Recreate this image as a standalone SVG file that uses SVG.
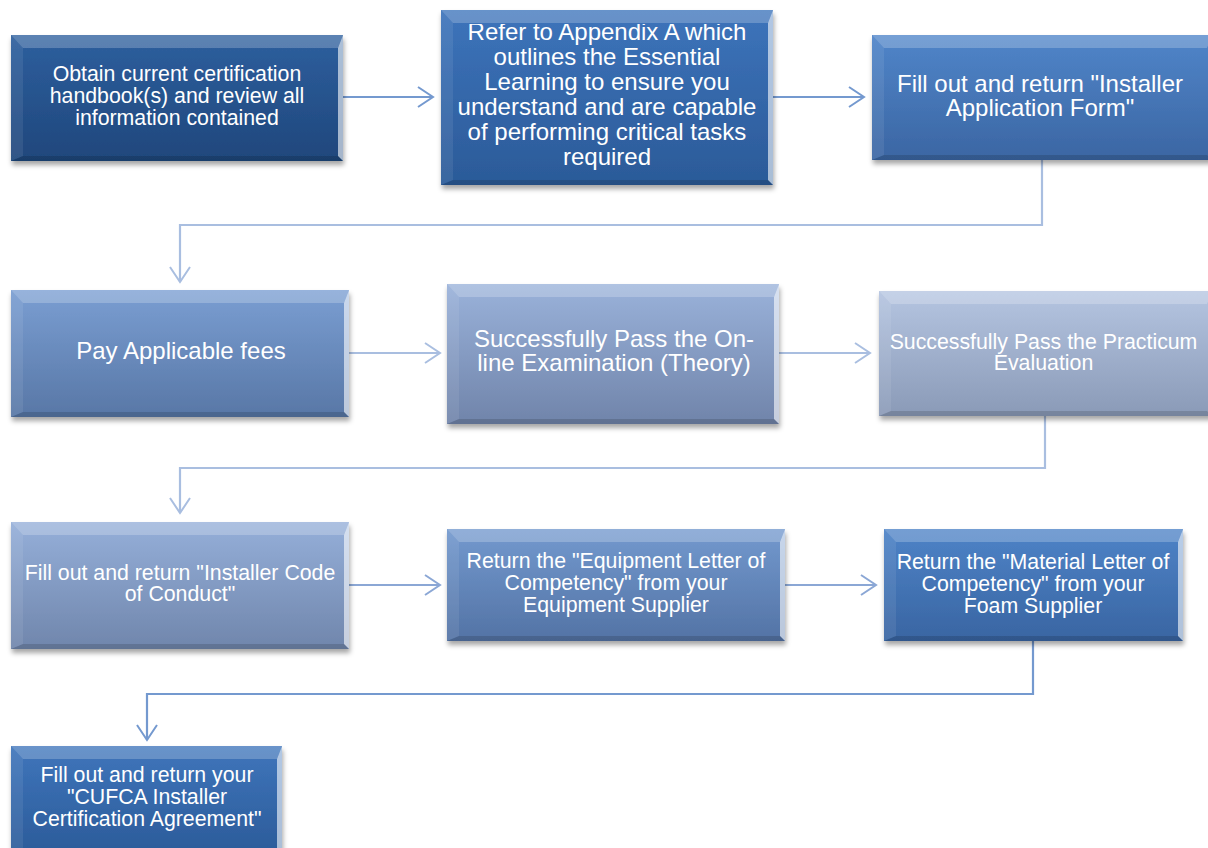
<svg xmlns="http://www.w3.org/2000/svg" width="1208" height="848" viewBox="0 0 1208 848">
<defs>
<style>
.t{font-family:"Liberation Sans",Arial,sans-serif;fill:#ffffff;text-anchor:middle}
.big{font-size:24px}
.sm{font-size:21.3px}
.bt{fill:#ffffff;fill-opacity:0.22}
.bl{fill:#ffffff;fill-opacity:0.08}
.br{fill:#ffffff;fill-opacity:0.6}
.bb{fill:#000000;fill-opacity:0.14}
.c{fill:none;stroke-width:2.2}
.c1{stroke:#7499cf}
.c2{stroke:#a9bee0}
.c3{stroke:#8ba7d5}
.box{filter:url(#sh)}
</style>
<filter id="sh" x="-5%" y="-10%" width="112%" height="125%">
<feDropShadow dx="1" dy="4" stdDeviation="2.5" flood-color="#000" flood-opacity="0.35"/>
</filter>
<marker id="a1" markerUnits="userSpaceOnUse" markerWidth="20" markerHeight="26" refX="16" refY="11" orient="auto"><path d="M1,1 L16,11 L1,21" fill="none" stroke="#7499cf" stroke-width="2"/></marker>
<marker id="a2" markerUnits="userSpaceOnUse" markerWidth="20" markerHeight="26" refX="16" refY="11" orient="auto"><path d="M1,1 L16,11 L1,21" fill="none" stroke="#a9bee0" stroke-width="2"/></marker>
<marker id="a3" markerUnits="userSpaceOnUse" markerWidth="20" markerHeight="26" refX="16" refY="11" orient="auto"><path d="M1,1 L16,11 L1,21" fill="none" stroke="#8ba7d5" stroke-width="2"/></marker>
<linearGradient id="g1" x1="0" y1="0" x2="0" y2="1"><stop offset="0" stop-color="#2e5f9e"/><stop offset="1" stop-color="#1f477c"/></linearGradient>
<linearGradient id="g2" x1="0" y1="0" x2="0" y2="1"><stop offset="0" stop-color="#3d74bb"/><stop offset="1" stop-color="#2b5a98"/></linearGradient>
<linearGradient id="g3" x1="0" y1="0" x2="0" y2="1"><stop offset="0" stop-color="#5085c9"/><stop offset="1" stop-color="#3b66a3"/></linearGradient>
<linearGradient id="g4" x1="0" y1="0" x2="0" y2="1"><stop offset="0" stop-color="#7a9ed2"/><stop offset="1" stop-color="#5877a6"/></linearGradient>
<linearGradient id="g5" x1="0" y1="0" x2="0" y2="1"><stop offset="0" stop-color="#9ab2da"/><stop offset="1" stop-color="#7084aa"/></linearGradient>
<linearGradient id="g6" x1="0" y1="0" x2="0" y2="1"><stop offset="0" stop-color="#b5c5e1"/><stop offset="1" stop-color="#8a9ab7"/></linearGradient>
<linearGradient id="g7" x1="0" y1="0" x2="0" y2="1"><stop offset="0" stop-color="#95afd9"/><stop offset="1" stop-color="#7086ac"/></linearGradient>
<linearGradient id="g8" x1="0" y1="0" x2="0" y2="1"><stop offset="0" stop-color="#7399ce"/><stop offset="1" stop-color="#5373a5"/></linearGradient>
<linearGradient id="g9" x1="0" y1="0" x2="0" y2="1"><stop offset="0" stop-color="#4e83c7"/><stop offset="1" stop-color="#3965a2"/></linearGradient>
<linearGradient id="g10" x1="0" y1="0" x2="0" y2="1"><stop offset="0" stop-color="#3f75bb"/><stop offset="1" stop-color="#2b5b99"/></linearGradient>
<clipPath id="clip2"><rect x="441" y="24" width="332" height="161"/></clipPath>
</defs>
<rect width="1208" height="848" fill="#ffffff"/>

<g id="connectors">
<line class="c c1" x1="343" y1="97" x2="433" y2="97" marker-end="url(#a1)"/>
<line class="c c1" x1="773" y1="97" x2="864" y2="97" marker-end="url(#a1)"/>
<polyline class="c c2" points="1042,160 1042,225 180,225 180,282" marker-end="url(#a2)"/>
<line class="c c2" x1="349" y1="353" x2="440" y2="353" marker-end="url(#a2)"/>
<line class="c c2" x1="779" y1="353" x2="870" y2="353" marker-end="url(#a2)"/>
<polyline class="c c2" points="1045,416 1045,468 180,468 180,513" marker-end="url(#a2)"/>
<line class="c c3" x1="349" y1="585" x2="440" y2="585" marker-end="url(#a3)"/>
<line class="c c3" x1="785" y1="585" x2="876" y2="585" marker-end="url(#a3)"/>
<polyline class="c c1" points="1033,641 1033,694 147,694 147,740" marker-end="url(#a1)"/>
</g>

<g id="n1">
<rect class="box" x="11" y="35" width="332" height="126" fill="url(#g1)"/>
<polygon class="bt" points="11,35 343,35 338,48 23,48"/>
<polygon class="bl" points="11,35 23,48 23,156 11,161"/>
<polygon class="br" points="343,35 343,161 338,156 338,48"/>
<polygon class="bb" points="11,161 343,161 338,156 23,156"/>
<text class="t sm" x="177" y="81">Obtain current certification</text>
<text class="t sm" x="177" y="103">handbook(s) and review all</text>
<text class="t sm" x="177" y="125">information contained</text>
</g>

<g id="n2">
<rect class="box" x="441" y="10" width="332" height="175" fill="url(#g2)"/>
<polygon class="bt" points="441,10 773,10 768,23 453,23"/>
<polygon class="bl" points="441,10 453,23 453,180 441,185"/>
<polygon class="br" points="773,10 773,185 768,180 768,23"/>
<polygon class="bb" points="441,185 773,185 768,180 453,180"/>
<g clip-path="url(#clip2)">
<text class="t big" x="607" y="40">Refer to Appendix A which</text>
</g>
<text class="t big" x="607" y="65">outlines the Essential</text>
<text class="t big" x="607" y="90">Learning to ensure you</text>
<text class="t big" x="607" y="115">understand and are capable</text>
<text class="t big" x="607" y="140">of performing critical tasks</text>
<text class="t big" x="607" y="165">required</text>
</g>

<g id="n3">
<rect class="box" x="872" y="35" width="340" height="125" fill="url(#g3)"/>
<polygon class="bt" points="872,35 1212,35 1207,48 884,48"/>
<polygon class="bl" points="872,35 884,48 884,155 872,160"/>
<polygon class="bb" points="872,160 1212,160 1207,155 884,155"/>
<text class="t big" x="1040" y="92">Fill out and return "Installer</text>
<text class="t big" x="1040" y="116">Application Form"</text>
</g>

<g id="n4">
<rect class="box" x="11" y="290" width="338" height="127" fill="url(#g4)"/>
<polygon class="bt" points="11,290 349,290 344,303 23,303"/>
<polygon class="bl" points="11,290 23,303 23,412 11,417"/>
<polygon class="br" points="349,290 349,417 344,412 344,303"/>
<polygon class="bb" points="11,417 349,417 344,412 23,412"/>
<text class="t big" x="181" y="359">Pay Applicable fees</text>
</g>

<g id="n5">
<rect class="box" x="447" y="284" width="332" height="140" fill="url(#g5)"/>
<polygon class="bt" points="447,284 779,284 774,297 459,297"/>
<polygon class="bl" points="447,284 459,297 459,419 447,424"/>
<polygon class="br" points="779,284 779,424 774,419 774,297"/>
<polygon class="bb" points="447,424 779,424 774,419 459,419"/>
<text class="t big" x="614" y="347">Successfully Pass the On-</text>
<text class="t big" x="614" y="371">line Examination (Theory)</text>
</g>

<g id="n6">
<rect class="box" x="879" y="291" width="333" height="125" fill="url(#g6)"/>
<polygon class="bt" points="879,291 1212,291 1207,304 891,304"/>
<polygon class="bl" points="879,291 891,304 891,411 879,416"/>
<polygon class="bb" points="879,416 1212,416 1207,411 891,411"/>
<text class="t sm" x="1043.5" y="349">Successfully Pass the Practicum</text>
<text class="t sm" x="1043.5" y="370">Evaluation</text>
</g>

<g id="n7">
<rect class="box" x="11" y="522" width="338" height="127" fill="url(#g7)"/>
<polygon class="bt" points="11,522 349,522 344,535 23,535"/>
<polygon class="bl" points="11,522 23,535 23,644 11,649"/>
<polygon class="br" points="349,522 349,649 344,644 344,535"/>
<polygon class="bb" points="11,649 349,649 344,644 23,644"/>
<text class="t sm" x="180" y="580">Fill out and return "Installer Code</text>
<text class="t sm" x="180" y="601">of Conduct"</text>
</g>

<g id="n8">
<rect class="box" x="447" y="529" width="338" height="112" fill="url(#g8)"/>
<polygon class="bt" points="447,529 785,529 780,542 459,542"/>
<polygon class="bl" points="447,529 459,542 459,636 447,641"/>
<polygon class="br" points="785,529 785,641 780,636 780,542"/>
<polygon class="bb" points="447,641 785,641 780,636 459,636"/>
<text class="t sm" x="616" y="568">Return the "Equipment Letter of</text>
<text class="t sm" x="616" y="590">Competency" from your</text>
<text class="t sm" x="616" y="612">Equipment Supplier</text>
</g>

<g id="n9">
<rect class="box" x="884" y="529" width="299" height="112" fill="url(#g9)"/>
<polygon class="bt" points="884,529 1183,529 1178,542 896,542"/>
<polygon class="bl" points="884,529 896,542 896,636 884,641"/>
<polygon class="br" points="1183,529 1183,641 1178,636 1178,542"/>
<polygon class="bb" points="884,641 1183,641 1178,636 896,636"/>
<text class="t sm" x="1033" y="569">Return the "Material Letter of</text>
<text class="t sm" x="1033" y="591">Competency" from your</text>
<text class="t sm" x="1033" y="613">Foam Supplier</text>
</g>

<g id="n10">
<rect class="box" x="11" y="746" width="271" height="110" fill="url(#g10)"/>
<polygon class="bt" points="11,746 282,746 277,759 23,759"/>
<polygon class="bl" points="11,746 23,759 23,856 11,856"/>
<polygon class="br" points="282,746 282,856 277,856 277,759"/>
<text class="t sm" x="147" y="782">Fill out and return your</text>
<text class="t sm" x="147" y="804">"CUFCA Installer</text>
<text class="t sm" x="147" y="826">Certification Agreement"</text>
</g>
</svg>
